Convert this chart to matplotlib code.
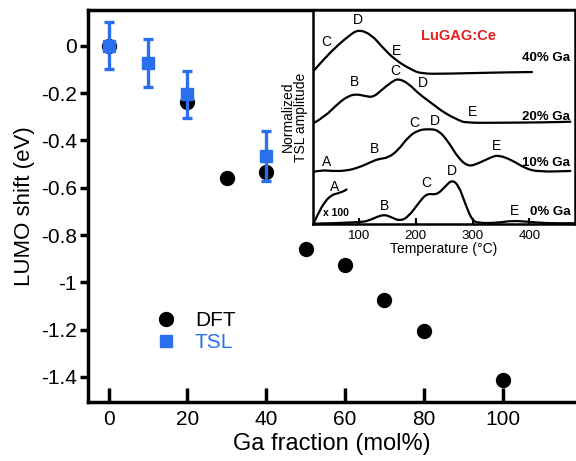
import matplotlib
matplotlib.use('Agg')
import matplotlib.pyplot as plt
from matplotlib.lines import Line2D
from matplotlib.path import Path
from matplotlib.patches import PathPatch

plt.rcParams['font.family'] = ['Liberation Sans', 'DejaVu Sans']

# main panel data
ga_dft = [0, 20, 30, 40, 50, 60, 70, 80, 100]
lumo_dft = [0, -0.239, -0.560, -0.535, -0.859, -0.927, -1.075, -1.206, -1.413]

ga_tsl = [0, 10, 20, 40]
lumo_tsl = [0, -0.073, -0.205, -0.465]
err_tsl = [0.10, 0.10, 0.10, 0.105]

blue = '#2a70ee'

# inset glow curves (temperature in C, normalized amplitude incl. offset)
t_40 = [19.6, 40, 63.7, 81.3, 99, 122.4, 140, 163.5, 193, 210.6, 251.7, 345.9, 404.6]
a_40 = [7.14, 7.76, 8.38, 8.77, 9.11, 8.85, 8.31, 7.68, 7.21, 7.03, 7.03, 7.09, 7.11]

t_20 = [19.6, 40, 63.7, 81.3, 95.9, 110.6, 125.4, 140, 157.7, 169.5, 187.1, 204.8,
        228.2, 251.7, 275.3, 287, 339.9, 428, 472.1]
a_20 = [4.71, 5.02, 5.65, 5.99, 6.08, 5.99, 5.93, 6.27, 6.65, 6.81, 6.58, 6.11,
        5.65, 5.18, 4.87, 4.74, 4.74, 4.76, 4.79]

t_10 = [19.6, 34.3, 51.9, 75.4, 99, 122.4, 134.2, 151.9, 169.5, 187.1, 204.8, 222.4,
        240, 257.7, 275.3, 292.9, 310.6, 334, 345.9, 369.3, 392.8, 416.4, 472.1]
a_10 = [2.45, 2.53, 2.49, 2.49, 2.64, 2.92, 3.05, 3.11, 3.47, 4.09, 4.40, 4.45,
        4.40, 3.85, 3.08, 2.69, 2.85, 3.15, 3.23, 3.00, 2.61, 2.45, 2.49]

t_0 = [20, 104.8, 122.4, 143, 157.7, 172.3, 187.1, 204.8, 219.4, 237, 251.7, 263.5,
       275.3, 287, 298.8, 310.6, 345.9, 369.3, 398.8, 428, 481]
a_0 = [0.03, 0.075, 0.23, 0.47, 0.33, 0.15, 0.35, 0.98, 1.45, 1.37, 1.75, 2.08,
       1.83, 0.98, 0.20, 0.05, 0.075, 0.17, 0.12, 0.05, 0.05]

# low temperature part of 0% Ga, scaled x100
t_0x = [19.6, 28.5, 40, 51.9, 63.7, 75.4, 78.3]
a_0x = [0.0, 0.51, 1.05, 1.37, 1.45, 1.57, 1.63]


def smooth_path(xs, ys):
    # quadratic bezier through midpoints, the read points act as control points
    verts = [(xs[0], ys[0])]
    codes = [Path.MOVETO]
    for i in range(1, len(xs) - 1):
        mx = (xs[i] + xs[i + 1]) / 2
        my = (ys[i] + ys[i + 1]) / 2
        verts += [(xs[i], ys[i]), (mx, my)]
        codes += [Path.CURVE3, Path.CURVE3]
    verts.append((xs[-1], ys[-1]))
    codes.append(Path.LINETO)
    return Path(verts, codes)


fig = plt.figure(figsize=(5.76, 4.61), dpi=100)
ax = fig.add_axes([0.1528, 0.128, 0.8472, 0.850])

ax.plot(ga_dft, lumo_dft, 'o', color='black', markersize=10, zorder=2)
ax.errorbar(ga_tsl, lumo_tsl, yerr=err_tsl, fmt='s', color=blue, ecolor=blue,
            markersize=8.5, elinewidth=2.4, capsize=3.5, capthick=2.4, zorder=3)

ax.set_xlim(-5.2, 118.6)
ax.set_ylim(-1.506, 0.151)
ax.set_xticks([0, 20, 40, 60, 80, 100])
ax.set_yticks([0, -0.2, -0.4, -0.6, -0.8, -1, -1.2, -1.4])
ax.set_yticklabels(['0', '-0.2', '-0.4', '-0.6', '-0.8', '-1', '-1.2', '-1.4'])
ax.tick_params(axis='x', direction='in', length=10, width=2.5, labelsize=15, pad=6)
ax.tick_params(axis='y', direction='out', length=6, width=2.5, labelsize=15, pad=2)
for s in ['left', 'bottom', 'top']:
    ax.spines[s].set_linewidth(2.5)
ax.spines['right'].set_visible(False)
ax.set_xlabel('Ga fraction (mol%)', fontsize=17, labelpad=3)
ax.set_ylabel('LUMO shift (eV)', fontsize=16, labelpad=4)

handles = [Line2D([], [], ls='none', marker='o', color='black', markersize=10),
           Line2D([], [], ls='none', marker='s', color=blue, markersize=8)]
leg = ax.legend(handles, ['DFT', 'TSL'], loc='center left', bbox_to_anchor=(0.138, 0.18),
                frameon=False, fontsize=15, handlelength=1, handletextpad=0.9,
                labelspacing=0.15, borderpad=0, borderaxespad=0)
leg.get_texts()[1].set_color(blue)

# inset
ins = fig.add_axes([0.544, 0.5134, 0.454, 0.4646])
for t, a in [(t_40, a_40), (t_20, a_20), (t_10, a_10), (t_0, a_0), (t_0x, a_0x)]:
    ins.add_patch(PathPatch(smooth_path(t, a), fill=False, edgecolor='black',
                            lw=1.6, capstyle='round', joinstyle='round'))
ins.set_xlim(20, 480)
ins.set_ylim(0, 10)
ins.set_xticks([100, 200, 300, 400])
ins.set_yticks([])
ins.tick_params(axis='x', direction='in', length=4, width=1.5, labelsize=9.5, pad=4)
for s in ins.spines.values():
    s.set_linewidth(1.8)
ins.set_xlabel('Temperature (\u00b0C)', fontsize=10, labelpad=0)
ins.set_ylabel('Normalized\nTSL amplitude', fontsize=10, labelpad=4, linespacing=0.9)

lbl = dict(fontsize=10, ha='center', va='center')
peak_labels = [
    (42.5, 8.52, 'C'), (98.2, 9.53, 'D'), (167, 8.10, 'E'),
    (92.4, 6.65, 'B'), (164.7, 7.17, 'C'), (212.9, 6.58, 'D'), (299.3, 5.25, 'E'),
    (43.6, 2.92, 'A'), (127.7, 3.5, 'B'), (198.2, 4.74, 'C'), (233.5, 4.83, 'D'), (342.3, 3.65, 'E'),
    (57, 1.74, 'A'), (145.3, 0.87, 'B'), (218.9, 1.91, 'C'), (263, 2.5, 'D'), (374.6, 0.62, 'E'),
]
for x, y, s in peak_labels:
    ins.text(x, y, s, **lbl)
ins.text(60, 0.51, 'x 100', fontsize=7.5, fontweight='bold', ha='center', va='center')

conc_labels = [(7.75, '40% Ga'), (5.02, '20% Ga'), (2.85, '10% Ga'), (0.59, '0% Ga')]
for y, s in conc_labels:
    ins.text(472, y, s, fontsize=9.5, fontweight='bold', ha='right', va='center')
ins.text(274.6, 8.79, 'LuGAG:Ce', fontsize=10.5, fontweight='bold', color='#e3201b',
         ha='center', va='center')

fig.savefig('out.png', dpi=100)
